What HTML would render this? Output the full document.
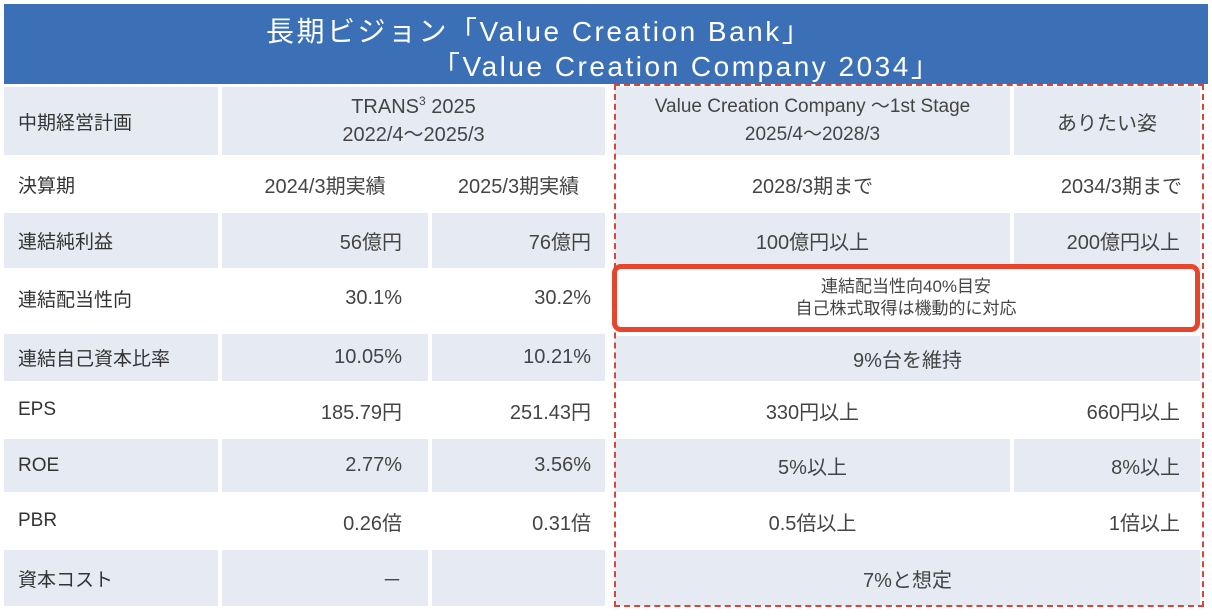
<!DOCTYPE html>
<html><head><meta charset="utf-8"><style>
body{margin:0;width:1212px;height:616px;background:#fff;position:relative;overflow:hidden;font-family:"Liberation Sans","Noto Sans CJK JP",sans-serif;color:#444;}
.c{position:absolute;display:flex;align-items:center;box-sizing:border-box;font-size:20px;white-space:nowrap}
.g{background:#e6ebf3}
.w{background:#fff}
.l{padding-left:14px;font-size:19px;color:#333}
.r{justify-content:flex-end;padding-right:26px}
.m{justify-content:center;text-align:center}
.h{position:absolute;color:#fff;font-size:28px;white-space:nowrap;letter-spacing:2.5px}
</style></head><body>
<div style="position:absolute;left:4px;top:4px;width:1204px;height:80px;background:#3b6fb6"></div>
<div class="h" style="left:266px;top:10px">長期ビジョン「Value Creation Bank」</div>
<div class="h" style="left:432px;top:45px">「Value Creation Company 2034」</div>

<!-- row1 -->
<div class="c g l" style="left:4px;top:87px;width:214px;height:68px">中期経営計画</div>
<div class="c g m" style="left:222px;top:87px;width:383px;height:68px;line-height:28px"><div>TRANS<sup style="font-size:12px;vertical-align:8px;line-height:0">3</sup>&nbsp;2025<br>2022/4～2025/3</div></div>
<div class="c g m" style="left:615px;top:87px;width:395px;height:68px;line-height:28px;font-size:19px"><div>Value Creation Company ～1st Stage<br>2025/4～2028/3</div></div>
<div class="c g m" style="left:1014px;top:87px;width:186px;height:68px">ありたい姿</div>
<!-- row2 -->
<div class="c w l" style="left:4px;top:157px;width:214px;height:54px">決算期</div>
<div class="c w m" style="left:222px;top:157px;width:206px;height:54px">2024/3期実績</div>
<div class="c w m" style="left:432px;top:157px;width:173px;height:54px">2025/3期実績</div>
<div class="c w m" style="left:615px;top:157px;width:395px;height:54px">2028/3期まで</div>
<div class="c w r" style="left:1014px;top:157px;width:186px;height:54px;padding-right:18px">2034/3期まで</div>
<!-- row3 -->
<div class="c g l" style="left:4px;top:213px;width:214px;height:55px">連結純利益</div>
<div class="c g r" style="left:222px;top:213px;width:206px;height:55px">56億円</div>
<div class="c g r" style="left:432px;top:213px;width:173px;height:55px;padding-right:14px">76億円</div>
<div class="c g m" style="left:615px;top:213px;width:395px;height:55px">100億円以上</div>
<div class="c g r" style="left:1014px;top:213px;width:186px;height:55px;padding-right:20px">200億円以上</div>
<!-- row4 -->
<div class="c w l" style="left:4px;top:270px;width:214px;height:56px">連結配当性向</div>
<div class="c w r" style="left:222px;top:270px;width:206px;height:56px">30.1%</div>
<div class="c w r" style="left:432px;top:270px;width:173px;height:56px;padding-right:14px">30.2%</div>
<div class="c m" style="left:612px;top:264px;width:588px;height:68px;border:5px solid #e8452c;border-radius:9px;background:#fff;font-size:17px;line-height:22px"><div>連結配当性向40%目安<br>自己株式取得は機動的に対応</div></div>
<!-- row5 -->
<div class="c g l" style="left:4px;top:334px;width:214px;height:47px">連結自己資本比率</div>
<div class="c g r" style="left:222px;top:334px;width:206px;height:47px">10.05%</div>
<div class="c g r" style="left:432px;top:334px;width:173px;height:47px;padding-right:14px">10.21%</div>
<div class="c g m" style="left:615px;top:336px;width:585px;height:45px">9%台を維持</div>
<!-- row6 -->
<div class="c w l" style="left:4px;top:383px;width:214px;height:54px">EPS</div>
<div class="c w r" style="left:222px;top:383px;width:206px;height:54px">185.79円</div>
<div class="c w r" style="left:432px;top:383px;width:173px;height:54px;padding-right:14px">251.43円</div>
<div class="c w m" style="left:615px;top:383px;width:395px;height:54px">330円以上</div>
<div class="c w r" style="left:1014px;top:383px;width:186px;height:54px;padding-right:20px">660円以上</div>
<!-- row7 -->
<div class="c g l" style="left:4px;top:439px;width:214px;height:53px">ROE</div>
<div class="c g r" style="left:222px;top:439px;width:206px;height:53px">2.77%</div>
<div class="c g r" style="left:432px;top:439px;width:173px;height:53px;padding-right:14px">3.56%</div>
<div class="c g m" style="left:615px;top:439px;width:395px;height:53px">5%以上</div>
<div class="c g r" style="left:1014px;top:439px;width:186px;height:53px;padding-right:20px">8%以上</div>
<!-- row8 -->
<div class="c w l" style="left:4px;top:494px;width:214px;height:54px">PBR</div>
<div class="c w r" style="left:222px;top:494px;width:206px;height:54px">0.26倍</div>
<div class="c w r" style="left:432px;top:494px;width:173px;height:54px;padding-right:14px">0.31倍</div>
<div class="c w m" style="left:615px;top:494px;width:395px;height:54px">0.5倍以上</div>
<div class="c w r" style="left:1014px;top:494px;width:186px;height:54px;padding-right:20px">1倍以上</div>
<!-- row9 -->
<div class="c g l" style="left:4px;top:550px;width:214px;height:56px">資本コスト</div>
<div class="c g r" style="left:222px;top:550px;width:206px;height:56px">－</div>
<div class="c g" style="left:432px;top:550px;width:173px;height:56px"></div>
<div class="c g m" style="left:615px;top:550px;width:585px;height:56px">7%と想定</div>

<div style="position:absolute;left:614px;top:84px;width:590px;height:523px;border:2px dashed #d9453a;box-sizing:border-box"></div>
</body></html>
